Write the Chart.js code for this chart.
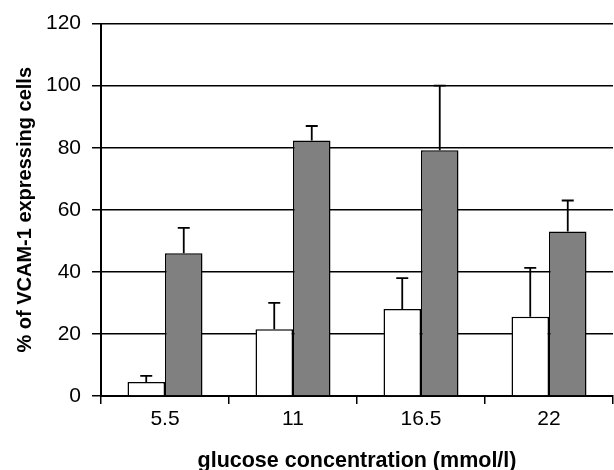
<!DOCTYPE html>
<html>
<head>
<meta charset="utf-8">
<script src="https://cdn.jsdelivr.net/npm/chart.js@4"></script>
<style>
  html, body { margin: 0; padding: 0; background: #fff; }
  #wrap { width: 614px; height: 470px; }
</style>
</head>
<body>
<div id="wrap"><canvas id="chart"></canvas></div>
<script>
// values
const categories = ['5.5', '11', '16.5', '22'];
const whiteValues = [4.5, 21.5, 28, 25.5];
const whiteErrors = [2, 8.5, 10, 15.8];
const grayValues = [46, 82.3, 79.2, 53];
const grayErrors = [8.2, 4.7, 20.8, 10];
const yTicks = [0, 20, 40, 60, 80, 100, 120];

// upward error bars with a cap on top
const errorBars = {
  id: 'errorBars',
  afterDatasetsDraw(chart){
    const ctx = chart.ctx;
    const yScale = chart.scales.y;
    chart.data.datasets.forEach((ds, i) => {
      const meta = chart.getDatasetMeta(i);
      meta.data.forEach((bar, j) => {
        const top = yScale.getPixelForValue(ds.data[j] + ds.errors[j]);
        ctx.save();
        ctx.strokeStyle = '#000';
        ctx.lineWidth = 1.8;
        ctx.beginPath();
        ctx.moveTo(bar.x, bar.y);
        ctx.lineTo(bar.x, top);
        ctx.moveTo(bar.x - 6, top);
        ctx.lineTo(bar.x + 6, top);
        ctx.stroke();
        ctx.restore();
      });
    });
  }
};

new Chart(document.getElementById('chart'), {
  type: 'bar',
  data: {
    labels: categories,
    datasets: [
      { data: whiteValues, errors: whiteErrors, backgroundColor: '#ffffff', borderColor: '#000', borderWidth: 1.5 },
      { data: grayValues, errors: grayErrors, backgroundColor: '#808080', borderColor: '#000', borderWidth: 1.5 }
    ]
  },
  options: {
    responsive: true,
    maintainAspectRatio: false,
    animation: false,
    layout: { padding: { top: 22, right: 1, left: 0, bottom: 0 } },
    plugins: { legend: { display: false }, tooltip: { enabled: false } },
    datasets: { bar: { categoryPercentage: 0.586, barPercentage: 1 } },
    scales: {
      x: {
        afterFit: s => { s.height = 74; },
        grid: { drawOnChartArea: false, color: '#000', lineWidth: 1.5, tickLength: 8, offset: true },
        border: { color: '#000', width: 2 },
        ticks: { color: '#000', padding: 3, font: { family: 'Liberation Sans', size: 21 } },
        title: { display: true, text: 'glucose concentration (mmol/l)', color: '#000',
                 padding: { top: 0, bottom: -4 }, font: { family: 'Liberation Sans', size: 21.5, weight: 'bold' } }
      },
      y: {
        min: 0, max: 120,
        afterFit: s => { s.width = 101; },
        afterBuildTicks: s => { s.ticks = yTicks.map(v => ({ value: v })); },
        grid: { color: '#000', lineWidth: 1.5, tickLength: 9 },
        border: { color: '#000', width: 2 },
        ticks: { color: '#000', padding: 11, font: { family: 'Liberation Sans', size: 21 } },
        title: { display: true, text: '% of VCAM-1 expressing cells', color: '#000',
                 padding: { top: 13, bottom: 0 }, font: { family: 'Liberation Sans', size: 20, weight: 'bold' } }
      }
    }
  },
  plugins: [errorBars]
});
</script>
</body>
</html>
